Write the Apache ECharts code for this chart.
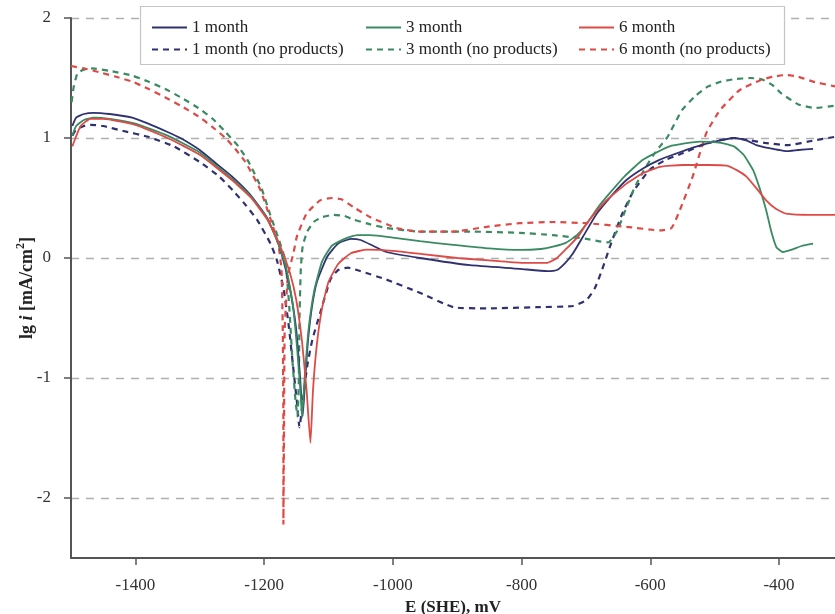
<!DOCTYPE html>
<html>
<head>
<meta charset="utf-8">
<script src="https://cdn.jsdelivr.net/npm/echarts@6/dist/echarts.min.js"></script>
<style>
  html, body { margin: 0; padding: 0; background: #fff; }
  #chart { width: 835px; height: 614px; }
</style>
</head>
<body>
<div id="chart"></div>
<script>
// E (SHE), mV  vs  lg i
var xTicks = [-1400, -1200, -1000, -800, -600, -400];
var yTicks = [-2, -1, 0, 1, 2];

var month1 = [[-1498,1.10],[-1492,1.17],[-1480,1.20],[-1465,1.21],[-1440,1.20],[-1405,1.17],[-1380,1.12],[-1350,1.05],[-1330,1.00],[-1300,0.90],[-1275,0.79],[-1250,0.68],[-1222,0.53],[-1196,0.34],[-1180,0.15],[-1170,-0.02],[-1160,-0.25],[-1150,-0.6],[-1144,-1.0],[-1140,-1.32],[-1136,-1.0],[-1132,-0.7],[-1126,-0.42],[-1118,-0.2],[-1102,0.01],[-1085,0.12],[-1065,0.16],[-1050,0.15],[-1030,0.1],[-1010,0.05],[-958,0.0],[-880,-0.06],[-803,-0.09],[-760,-0.11],[-745,-0.1],[-732,-0.04],[-720,0.04],[-700,0.22],[-683,0.37],[-660,0.52],[-637,0.65],[-610,0.75],[-585,0.82],[-560,0.87],[-534,0.92],[-500,0.97],[-470,1.0],[-451,0.98],[-435,0.94],[-420,0.92],[-400,0.9],[-389,0.89],[-370,0.9],[-347,0.91]];

var month3 = [[-1498,1.02],[-1492,1.10],[-1480,1.15],[-1465,1.17],[-1440,1.16],[-1400,1.12],[-1350,1.02],[-1300,0.88],[-1250,0.66],[-1220,0.51],[-1195,0.33],[-1178,0.12],[-1165,-0.1],[-1155,-0.4],[-1148,-0.8],[-1143,-1.15],[-1141,-1.33],[-1137,-1.0],[-1131,-0.6],[-1122,-0.27],[-1110,-0.03],[-1095,0.1],[-1075,0.16],[-1055,0.19],[-1035,0.19],[-1000,0.17],[-958,0.14],[-906,0.11],[-850,0.08],[-803,0.067],[-770,0.075],[-751,0.094],[-730,0.13],[-712,0.2],[-697,0.3],[-680,0.43],[-663,0.54],[-640,0.68],[-611,0.82],[-570,0.93],[-523,0.97],[-490,0.96],[-470,0.93],[-455,0.86],[-440,0.73],[-430,0.58],[-420,0.4],[-412,0.22],[-404,0.09],[-394,0.05],[-380,0.07],[-365,0.1],[-347,0.12]];

var month6 = [[-1498,0.93],[-1493,1.0],[-1485,1.1],[-1470,1.16],[-1450,1.16],[-1400,1.11],[-1350,1.0],[-1300,0.86],[-1250,0.65],[-1220,0.5],[-1195,0.32],[-1175,0.1],[-1160,-0.12],[-1150,-0.35],[-1141,-0.7],[-1134,-1.1],[-1128,-1.54],[-1124,-1.1],[-1118,-0.72],[-1110,-0.42],[-1100,-0.2],[-1085,-0.05],[-1065,0.04],[-1040,0.07],[-1000,0.06],[-950,0.03],[-900,0.0],[-850,-0.02],[-800,-0.04],[-760,-0.04],[-745,0.0],[-728,0.09],[-712,0.18],[-697,0.3],[-670,0.47],[-637,0.62],[-610,0.71],[-585,0.76],[-550,0.775],[-510,0.775],[-481,0.77],[-465,0.73],[-451,0.68],[-435,0.58],[-420,0.48],[-405,0.41],[-389,0.37],[-350,0.36],[-313,0.36]];

var noProd1 = [[-1498,1.02],[-1492,1.07],[-1480,1.1],[-1470,1.11],[-1450,1.10],[-1420,1.06],[-1380,1.01],[-1340,0.93],[-1300,0.80],[-1270,0.68],[-1248,0.56],[-1230,0.45],[-1211,0.32],[-1190,0.12],[-1180,-0.02],[-1170,-0.25],[-1162,-0.55],[-1155,-0.9],[-1149,-1.2],[-1145,-1.41],[-1140,-1.2],[-1133,-0.9],[-1125,-0.68],[-1113,-0.46],[-1097,-0.18],[-1085,-0.1],[-1070,-0.08],[-1050,-0.11],[-1010,-0.18],[-958,-0.29],[-906,-0.41],[-854,-0.42],[-777,-0.41],[-720,-0.40],[-699,-0.35],[-686,-0.25],[-675,-0.1],[-663,0.09],[-645,0.35],[-627,0.55],[-600,0.74],[-575,0.82],[-551,0.87],[-510,0.96],[-469,1.0],[-445,0.98],[-422,0.96],[-387,0.94],[-345,0.98],[-313,1.01]];

var noProd3 = [[-1499,1.3],[-1496,1.42],[-1490,1.54],[-1480,1.57],[-1467,1.58],[-1440,1.56],[-1405,1.52],[-1380,1.47],[-1354,1.41],[-1330,1.34],[-1302,1.25],[-1280,1.16],[-1260,1.05],[-1240,0.93],[-1224,0.80],[-1204,0.58],[-1191,0.37],[-1175,0.12],[-1167,-0.02],[-1161,-0.4],[-1156,-0.85],[-1151,-1.2],[-1148,-1.32],[-1146,-1.0],[-1145,-0.5],[-1143,-0.1],[-1140,0.1],[-1133,0.22],[-1123,0.3],[-1110,0.34],[-1092,0.36],[-1075,0.35],[-1061,0.32],[-1035,0.28],[-1010,0.25],[-958,0.22],[-880,0.22],[-803,0.21],[-751,0.19],[-699,0.16],[-681,0.14],[-665,0.13],[-652,0.22],[-640,0.38],[-625,0.58],[-610,0.73],[-595,0.86],[-585,0.93],[-573,1.01],[-551,1.23],[-530,1.35],[-510,1.43],[-490,1.47],[-469,1.49],[-445,1.50],[-427,1.49],[-410,1.44],[-396,1.37],[-370,1.28],[-345,1.25],[-313,1.27]];

var noProd6 = [[-1500,1.6],[-1480,1.58],[-1457,1.55],[-1430,1.51],[-1405,1.47],[-1380,1.41],[-1354,1.34],[-1330,1.27],[-1302,1.18],[-1280,1.09],[-1260,1.0],[-1245,0.91],[-1229,0.80],[-1206,0.57],[-1191,0.34],[-1178,0.12],[-1173,-0.1],[-1171,-0.6],[-1170,-1.4],[-1170,-2.22],[-1169,-1.4],[-1168,-0.6],[-1163,-0.15],[-1154,0.05],[-1149,0.18],[-1134,0.37],[-1113,0.48],[-1095,0.50],[-1080,0.49],[-1060,0.42],[-1035,0.34],[-994,0.25],[-958,0.22],[-906,0.22],[-854,0.26],[-803,0.29],[-751,0.30],[-699,0.29],[-637,0.26],[-585,0.23],[-567,0.25],[-554,0.40],[-534,0.68],[-513,1.04],[-492,1.23],[-461,1.40],[-430,1.48],[-410,1.51],[-389,1.525],[-370,1.51],[-347,1.47],[-313,1.43]];

var names = ['1 month', '3 month', '6 month',
             '1 month (no products)', '3 month (no products)', '6 month (no products)'];
var colors = ['#2f3170', '#3a8a62', '#de4a46'];
var font = '"Liberation Serif", "DejaVu Serif", serif';

function line(name, data, color, dashed) {
    return {
        name: name,
        type: 'line',
        data: data,
        smooth: 0.15,
        symbol: 'none',
        color: color,
        lineStyle: {
            color: color,
            width: dashed ? 2.2 : 1.8,
            type: dashed ? [6, 5] : 'solid'
        },
        z: dashed ? 3 : 4
    };
}

function legendCol(left, items) {
    return {
        orient: 'vertical',
        left: left,
        top: 14,
        itemWidth: 35,
        itemHeight: 14,
        itemGap: 5,
        itemStyle: { opacity: 0 },
        data: items,
        textStyle: { fontFamily: font, fontSize: 17, color: '#222' }
    };
}

var chart = echarts.init(document.getElementById('chart'));
chart.setOption({
    animation: false,
    backgroundColor: '#fff',
    grid: { left: 71, right: 0, top: 18, bottom: 56, outerBoundsMode: 'none' },
    graphic: [{
        type: 'rect',
        z: 1,
        shape: { x: 140.5, y: 6.5, width: 644, height: 58 },
        style: { fill: '#fff', stroke: '#c4c4c4', lineWidth: 1.2 }
    }],
    legend: [
        legendCol(146, [names[0], names[3]]),
        legendCol(360, [names[1], names[4]]),
        legendCol(573, [names[2], names[5]])
    ],
    xAxis: {
        type: 'value',
        min: -1500,
        max: -313,
        name: 'E (SHE), mV',
        nameLocation: 'middle',
        nameGap: 38,
        nameTextStyle: { fontFamily: font, fontSize: 17, fontWeight: 'bold', color: '#222' },
        axisLine: { onZero: false, lineStyle: { color: '#555', width: 2 } },
        axisTick: { show: true, length: 7, lineStyle: { color: '#555', width: 1.5 }, customValues: xTicks },
        axisLabel: {
            customValues: xTicks, margin: 19, fontFamily: font, fontSize: 17, color: '#333',
            formatter: function (v) { return String(v); }
        },
        splitLine: { show: false }
    },
    yAxis: {
        type: 'value',
        min: -2.5,
        max: 2,
        name: '{b|lg }{i|i}{b| [mA/cm}{s|2}{b|]}',
        nameLocation: 'middle',
        nameMoveOverlap: false,
        nameGap: 32,
        nameTextStyle: {
            rich: {
                b: { fontFamily: font, fontSize: 18, fontWeight: 'bold', color: '#222', lineHeight: 24 },
                i: { fontFamily: font, fontSize: 18, fontWeight: 'bold', fontStyle: 'italic', color: '#222', lineHeight: 24 },
                s: { fontFamily: font, fontSize: 12, fontWeight: 'bold', color: '#222', lineHeight: 12, verticalAlign: 'top' }
            }
        },
        axisLine: { show: true, onZero: false, lineStyle: { color: '#555', width: 2 } },
        axisTick: { show: true, length: 7, lineStyle: { color: '#555', width: 1.5 }, customValues: yTicks },
        axisLabel: {
            customValues: yTicks, margin: 20, fontFamily: font, fontSize: 17, color: '#333',
            formatter: function (v) { return String(v); }
        },
        splitLine: { show: true, lineStyle: { color: '#b0b0b0', width: 1.3, type: [8, 7] } }
    },
    series: [
        line(names[0], month1, colors[0], false),
        line(names[1], month3, colors[1], false),
        line(names[2], month6, colors[2], false),
        line(names[3], noProd1, colors[0], true),
        line(names[4], noProd3, colors[1], true),
        line(names[5], noProd6, colors[2], true)
    ]
});
</script>
</body>
</html>
